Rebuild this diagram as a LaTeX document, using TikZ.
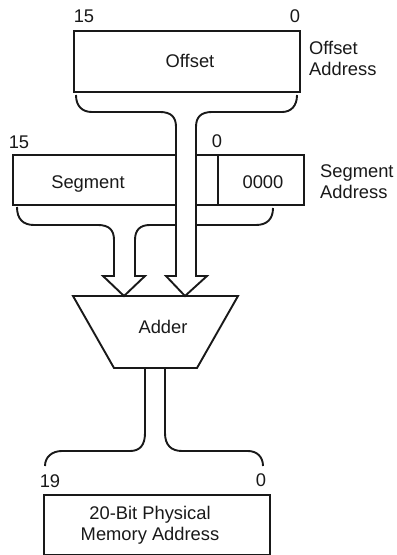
\documentclass[tikz,border=0pt]{standalone}
\usepackage{fontspec}
\setmainfont{Liberation Sans}
\tikzset{
  every picture/.style={x=1bp,y=-1bp},
  ln/.style={draw=black!90,line width=1.9bp,line join=miter},
  lbl/.style={font=\fontsize{18.4}{20.8}\selectfont,text=black!90,inner sep=0pt,align=center},
  lblL/.style={font=\fontsize{18.4}{20.8}\selectfont,text=black!90,inner sep=0pt,align=left},
}
\begin{document}
\begin{tikzpicture}
\useasboundingbox (0,0) rectangle (396,555);
\fill[white] (0,0) rectangle (396,555);
% boxes
\node[ln,minimum width=226bp,minimum height=61bp,inner sep=0pt,anchor=north west] (off) at (73,30) {};
\node[lbl] (offt) at (190,61) {Offset};
\node[ln,minimum width=205bp,minimum height=50bp,inner sep=0pt,anchor=north west] (seg) at (12,154) {};
\node[ln,minimum width=86bp,minimum height=50bp,inner sep=0pt,anchor=north west] (zer) at (217,154) {};
\node[lbl] (segt) at (88,184) {Segment};
\node[lbl] (zert) at (263,182) {0000};
% adder
\node[lbl] (addt) at (163,327) {Adder};
\draw[ln] (73,296) coordinate (atl) -- (238,296) coordinate (atr) -- (197,368) coordinate (abr) -- (114,368) coordinate (abl) -- cycle;
% offset bus
\coordinate (o1) at (76,95);
\coordinate (o2) at (297,95);
\coordinate (otip) at (185,296);
\fill[white] (176,110) rectangle (196,280);
\fill[white] (176,276) -- (196,276) -- (otip) -- cycle;
\draw[ln] (o1) .. controls (76,106) and (82,112) .. (92,112) -- (160,112) .. controls (171,112) and (176,117) .. (176,127) -- (176,276) -- (166,276) -- (otip) -- (207,276) -- (196,276) -- (196,127) .. controls (196,117) and (201,112) .. (212,112) -- (282,112) .. controls (291,112) and (297,106) .. (o2);
% segment bus
\coordinate (s1) at (17,207);
\coordinate (s2) at (273,208);
\coordinate (stip) at (124,296);
\draw[ln] (s1) .. controls (17,219) and (23,225) .. (34,225) -- (98,225) .. controls (109,225) and (114,230) .. (114,240) -- (114,276) -- (103,276) -- (stip) -- (145,276) -- (135,276) -- (135,240) .. controls (135,230) and (140,225) .. (150,225) -- (176,225);
\draw[ln] (196,225) -- (256,225) .. controls (267,225) and (273,219) .. (s2);
% output bus
\draw[ln] (145,368) -- (145,433) .. controls (145,445) and (140,451) .. (130,451) -- (62,451) .. controls (52,451) and (45,457) .. (45,466);
\draw[ln] (165,368) -- (165,433) .. controls (165,445) and (171,451) .. (182,451) -- (248,451) .. controls (257,451) and (263,457) .. (263,466);
% result box
\node[ln,minimum width=226bp,minimum height=60bp,inner sep=0pt,anchor=north west] (res) at (43,494) {};
\node[lbl] (rest) at (150,525.5) {20-Bit Physical\\Memory Address};
% labels
\node[lbl] (a1) at (84,16) {15};
\node[lbl] (a2) at (295,16) {0};
\node[lbl] (a3) at (19,142) {15};
\node[lbl] (a4) at (217,141) {0};
\node[lbl] (a5) at (50,481) {19};
\node[lbl] (a6) at (261,480) {0};
\node[lblL,anchor=west] (oa) at (309,58.5) {Offset\\Address};
\node[lblL,anchor=west] (sa) at (320,182) {Segment\\Address};
\end{tikzpicture}
\end{document}
